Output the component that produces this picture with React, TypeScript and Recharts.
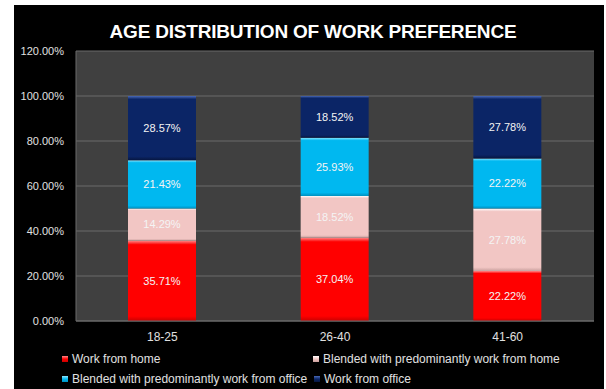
import { BarChart, Bar, XAxis, YAxis, CartesianGrid, LabelList } from 'recharts';

const categories = ['18-25', '26-40', '41-60'];
const workFromHome = [35.71, 37.04, 22.22];
const blendedHome = [14.29, 18.52, 27.78];
const blendedOffice = [21.43, 25.93, 22.22];
const workFromOffice = [28.57, 18.52, 27.78];
const yTicks = [0, 20, 40, 60, 80, 100, 120];

const series = [
    { key: 'wfh', name: 'Work from home', values: workFromHome, top: '#ff8a8a', mid: '#ff0000', bottom: '#c80000' },
    { key: 'bh', name: 'Blended with predominantly work from home', values: blendedHome, top: '#ffffff', mid: '#f2c6c4', bottom: '#c9a09e' },
    { key: 'bo', name: 'Blended with predominantly work from office', values: blendedOffice, top: '#8fe6ff', mid: '#00b8f0', bottom: '#0090c0' },
    { key: 'wfo', name: 'Work from office', values: workFromOffice, top: '#4a6ab8', mid: '#0b2566', bottom: '#061640' },
];

const data = categories.map((c, i) => {
    const row: Record<string, string | number> = { category: c };
    series.forEach((s) => (row[s.key] = s.values[i]));
    return row;
});

const font = '"Liberation Sans", Arial, sans-serif';
const pct = (v: number) => Number(v).toFixed(2) + '%';
const lineColor = '#6b6b6b';

function LegendItem({ s, left, top }: { s: (typeof series)[number]; left: number; top: number }) {
    return (
        <div style={{ position: 'absolute', left, top, height: 16, display: 'flex', alignItems: 'center', whiteSpace: 'nowrap' }}>
            <span style={{ width: 6, height: 6, background: `linear-gradient(${s.top}, ${s.mid}, ${s.bottom})`, marginRight: 4 }} />
            <span style={{ color: '#e0e0e0', fontSize: 12, fontFamily: font }}>{s.name}</span>
        </div>
    );
}

export default function App() {
    return (
        <div style={{ position: 'fixed', left: 0, top: 0, width: 606, height: 389, background: '#fff' }}>
            <div style={{ position: 'absolute', left: 14, top: 5, width: 590, height: 384, background: '#000' }}>
                <div
                    style={{
                        position: 'absolute', left: 0, top: 17, width: 590, paddingLeft: 8, boxSizing: 'border-box',
                        textAlign: 'center', color: '#fff', fontFamily: font, fontWeight: 'bold', fontSize: 19,
                        lineHeight: '19px', letterSpacing: -0.2,
                    }}
                >
                    AGE DISTRIBUTION OF WORK PREFERENCE
                </div>
                <BarChart width={590} height={384} data={data} margin={{ top: 46, right: 10, bottom: 0, left: 0 }} style={{ fontFamily: font }}>
                    <defs>
                        {series.map((s) => (
                            <linearGradient key={s.key} id={'g-' + s.key} x1="0" y1="0" x2="0" y2="1">
                                <stop offset="0%" stopColor={s.top} />
                                <stop offset="5%" stopColor={s.mid} />
                                <stop offset="94%" stopColor={s.mid} />
                                <stop offset="100%" stopColor={s.bottom} />
                            </linearGradient>
                        ))}
                    </defs>
                    <CartesianGrid vertical={false} stroke={lineColor} fill="#404040" fillOpacity={1} />
                    <XAxis
                        dataKey="category"
                        height={68}
                        tickLine={false}
                        tickSize={0}
                        tickMargin={11}
                        axisLine={{ stroke: lineColor }}
                        tick={{ fill: '#e0e0e0', fontSize: 12, fontFamily: font }}
                    />
                    <YAxis
                        width={62}
                        domain={[0, 120]}
                        ticks={yTicks}
                        tickFormatter={pct}
                        tickLine={false}
                        tickSize={0}
                        tickMargin={12}
                        axisLine={{ stroke: lineColor }}
                        tick={{ fill: '#e0e0e0', fontSize: 11, fontFamily: font }}
                    />
                    <YAxis yAxisId="right" orientation="right" width={0} domain={[0, 120]} tick={false} tickLine={false} axisLine={{ stroke: lineColor }} />
                    {series.map((s) => (
                        <Bar key={s.key} dataKey={s.key} name={s.name} stackId="a" barSize={68} fill={`url(#g-${s.key})`} isAnimationActive={false}>
                            <LabelList dataKey={s.key} position="center" formatter={(v: any) => pct(v)} fill="#f4f4f4" fontSize={11} fontFamily={font} />
                        </Bar>
                    ))}
                </BarChart>
                <LegendItem s={series[0]} left={48} top={346} />
                <LegendItem s={series[1]} left={299} top={346} />
                <LegendItem s={series[2]} left={48} top={366} />
                <LegendItem s={series[3]} left={300} top={366} />
            </div>
        </div>
    );
}
